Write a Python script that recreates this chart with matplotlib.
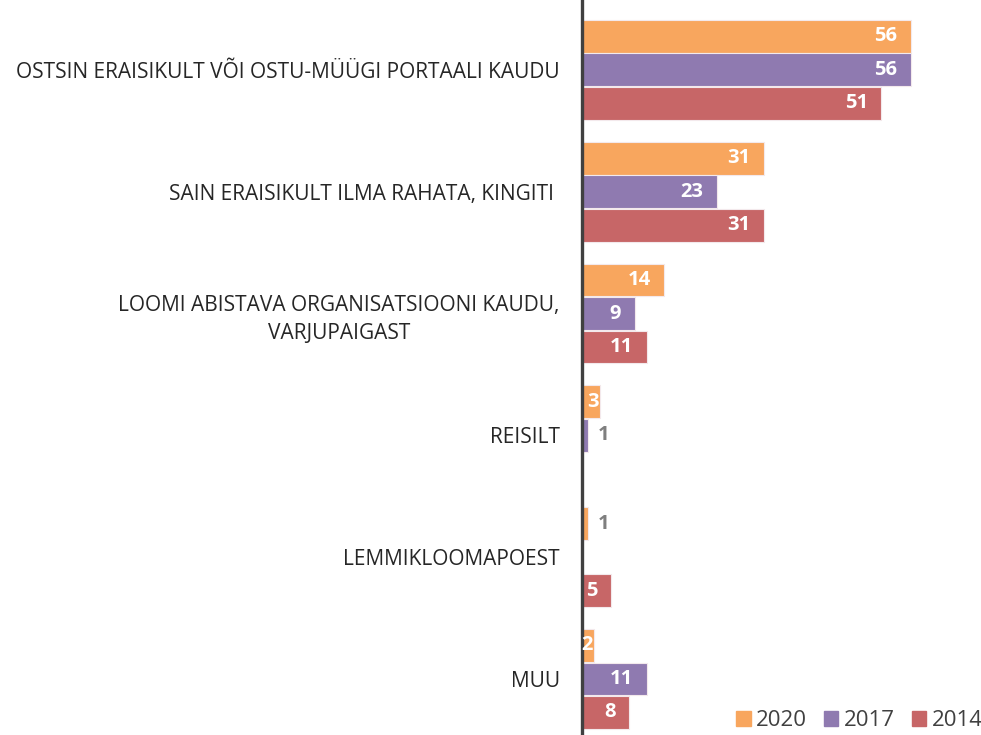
import numpy as np
import matplotlib.pyplot as plt

# Categories and values per survey year
categories = [
    "OSTSIN ERAISIKULT VÕI OSTU-MÜÜGI PORTAALI KAUDU",
    "SAIN ERAISIKULT ILMA RAHATA, KINGITI ",
    "LOOMI ABISTAVA ORGANISATSIOONI KAUDU,\nVARJUPAIGAST",
    "REISILT",
    "LEMMIKLOOMAPOEST",
    "MUU",
]
years = ["2020", "2017", "2014"]
v2020 = [56, 31, 14, 3, 1, 2]
v2017 = [56, 23, 9, 1, None, 11]
v2014 = [51, 31, 11, None, 5, 8]
series = [v2020, v2017, v2014]
colors = ["#F8A65E", "#8F7AB0", "#C76667"]

plt.rcParams['font.family'] = ['Open Sans', 'DejaVu Sans']

W, H = 981, 735
fig = plt.figure(figsize=(W / 100, H / 100), dpi=100)
ax = fig.add_axes([582 / W, 0 / H, (934 - 582) / W, 726 / H])

y = np.arange(len(categories))
bh = 0.27
offs = [-0.275, 0, 0.275]

for vals, col, off in zip(series, colors, offs):
    for yi, v in zip(y, vals):
        if v is None:
            continue
        ax.barh(yi + off, v, height=bh, color=col, edgecolor="#F3E9EC", linewidth=0.8)
        if v <= 1:
            ax.text(v + 1.6, yi + off, str(v), ha="left", va="center",
                    color="#7F7F7F", fontsize=14.5, fontweight="bold")
        else:
            ax.text(v - 0.1 if v < 5 else v - 2.3, yi + off, str(v), ha="right", va="center",
                    color="white", fontsize=14.5, fontweight="bold")

ax.set_xlim(0, 60)
ax.set_ylim(5.46, -0.5)
ax.set_yticks(y)
ax.set_yticklabels(categories, fontsize=15, color="#262626", multialignment="center",
                   linespacing=1.45)
ax.tick_params(axis="y", length=0, pad=16)
ax.set_xticks([])
for s in ["top", "right", "bottom"]:
    ax.spines[s].set_visible(False)
ax.spines["left"].set_color("#404040")
ax.spines["left"].set_linewidth(2.4)
ax.spines["left"].set_bounds(5.46, -0.57)
ax.set_ylim(5.46, -0.5)

handles = [plt.Rectangle((0, 0), 1, 1, color=c) for c in colors]
fig.legend(handles, years, loc="lower right", bbox_to_anchor=(1.022, -0.022), ncol=3,
           frameon=False, fontsize=16, handlelength=0.65, handleheight=0.65,
           handletextpad=0.25, columnspacing=0.75, labelcolor="#404040")

fig.savefig("out.png", dpi=100)
